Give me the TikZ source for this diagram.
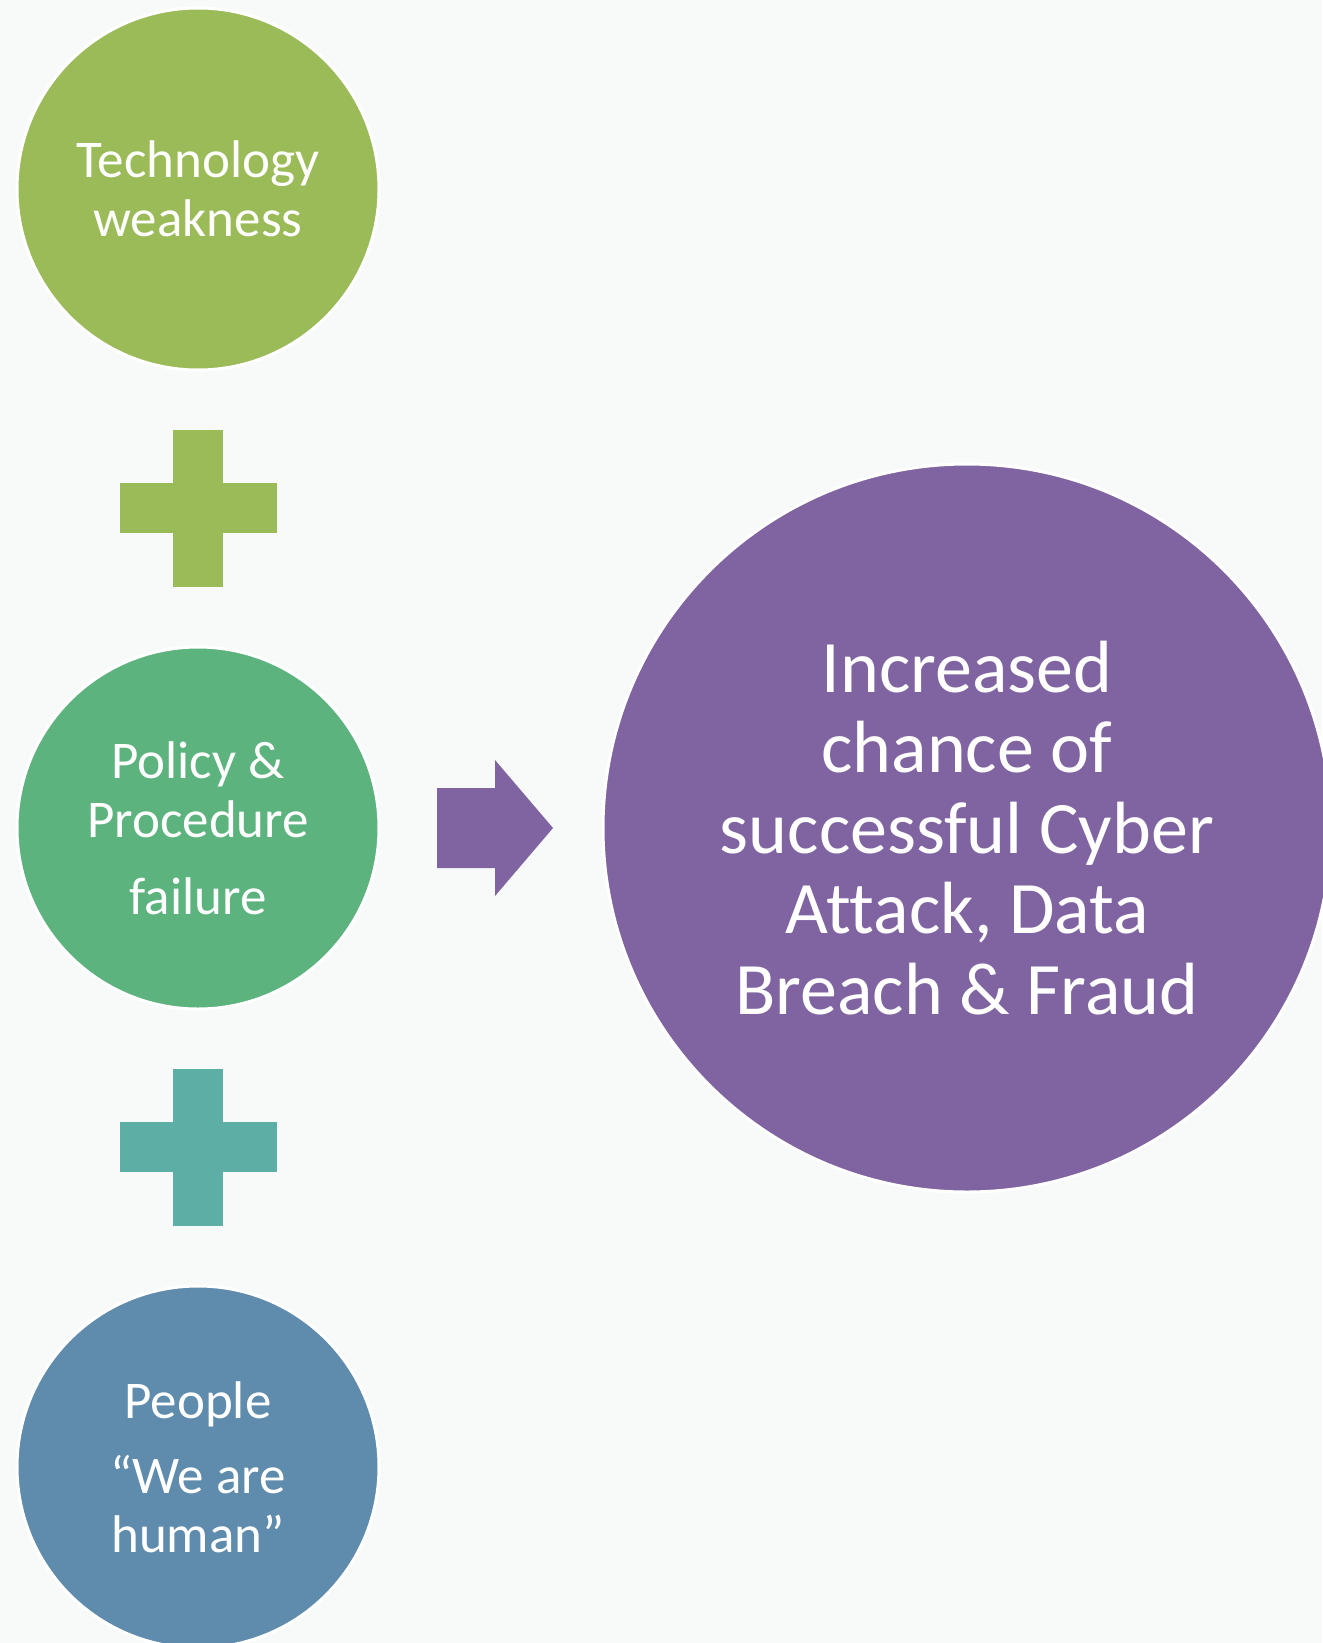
\documentclass[tikz,border=0pt]{standalone}
\usepackage{fontspec}
\setmainfont{Carlito}[Ligatures=NoCommon]
\definecolor{bgc}{HTML}{F8FAF9}
\definecolor{cgreen}{HTML}{9BBB59}
\definecolor{cmid}{HTML}{5DB37E}
\definecolor{cteal}{HTML}{5DAEA5}
\definecolor{cblue}{HTML}{5F8BAD}
\definecolor{cpurple}{HTML}{8064A2}
\begin{document}
\begin{tikzpicture}[x=1pt,y=-1pt,
  disc/.style={circle, draw=white, line width=3pt, inner sep=0pt, minimum size=362pt,
    text=white, align=center, font=\fontsize{53}{59}\selectfont},
  barv/.style={rectangle, inner sep=0pt, minimum width=50pt, minimum height=157pt},
  barh/.style={rectangle, inner sep=0pt, minimum width=157pt, minimum height=50pt}]
\fill[bgc] (0,0) rectangle (1322,1643);
\useasboundingbox (0,0) rectangle (1322,1643);
% left column
\node[disc, fill=cgreen] (tech) at (198,189) {Technology\\weakness};
\coordinate (plusA) at (198,508);
\node[barv, fill=cgreen] (plusAv) at (plusA) {};
\node[barh, fill=cgreen] (plusAh) at (plusA) {};
\node[disc, fill=cmid] (policy) at (198,828) {Policy \&\\Procedure\\[18pt]failure};
\coordinate (plusB) at (198,1147);
\node[barv, fill=cteal] (plusBv) at (plusB) {};
\node[barh, fill=cteal] (plusBh) at (plusB) {};
\node[disc, fill=cblue] (people) at (198,1467) {People\\[16pt]“We are\\human”};
% arrow
\coordinate (arr) at (495,828);
\fill[cpurple] (arr) ++(-58,-40) -- ++(58,0) -- ++(0,-28) -- ++(58,68) -- ++(-58,68)
  -- ++(0,-28) -- ++(-58,0) -- cycle;
% result
\node[disc, fill=cpurple, minimum size=728pt, font=\fontsize{74}{80.5}\selectfont] (result) at (967,828)
  {Increased\\chance of\\successful Cyber\\Attack, Data\\Breach \& Fraud};
\end{tikzpicture}
\end{document}
